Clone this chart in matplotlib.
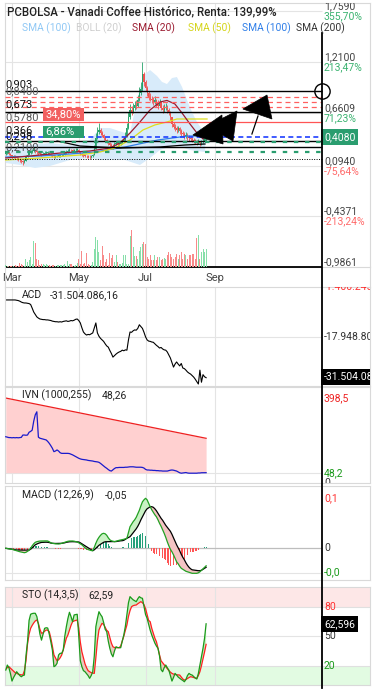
import numpy as np
import pandas as pd
import matplotlib
matplotlib.use("Agg")
import matplotlib.pyplot as plt
import matplotlib.transforms as mtransforms
from matplotlib.patches import Polygon, Rectangle
from matplotlib.lines import Line2D

plt.rcParams['font.family'] = ['Roboto', 'DejaVu Sans']

W, H = 376, 690

# ---------- data ----------
dates = pd.bdate_range('2024-02-26', '2024-10-31')
month_names = ['Mar', 'May', 'Jul', 'Sep']
month_nums = [3, 5, 7, 9]

first_open = 0.23
close = [0.24, 0.25, 0.23, 0.21, 0.19, 0.20, 0.19, 0.18, 0.17, 0.16,
         0.15, 0.14, 0.15, 0.19, 0.21, 0.24, 0.25, 0.26, 0.27, 0.26,
         0.25, 0.24, 0.23, 0.22, 0.23, 0.24, 0.24, 0.24, 0.23, 0.22,
         0.21, 0.20, 0.20, 0.205, 0.21, 0.21, 0.215, 0.22, 0.24, 0.25,
         0.26, 0.27, 0.265, 0.26, 0.265, 0.27, 0.27, 0.25, 0.23, 0.22,
         0.21, 0.205, 0.20, 0.195, 0.19, 0.20, 0.21, 0.28, 0.40, 0.46,
         0.48, 0.45, 0.43, 0.40, 0.38, 0.36, 0.34, 0.32, 0.31, 0.30,
         0.33, 0.34, 0.33, 0.33, 0.34, 0.36, 0.38, 0.42, 0.50, 0.62,
         0.70, 0.68, 0.72, 0.75, 0.74, 0.80, 0.88, 0.92, 1.08, 1.00,
         0.93, 0.88, 0.84, 0.82, 0.80, 0.78, 0.80, 0.76, 0.74, 0.78,
         0.72, 0.70, 0.72, 0.73, 0.70, 0.68, 0.62, 0.55, 0.52, 0.50,
         0.48, 0.50, 0.47, 0.45, 0.44, 0.42, 0.43, 0.41, 0.40, 0.39,
         0.38, 0.37, 0.36, 0.35, 0.36, 0.34, 0.35, 0.37, 0.39, 0.408]
high = [0.26, 0.27, 0.26, 0.24, 0.22, 0.21, 0.21, 0.20, 0.19, 0.18,
        0.17, 0.16, 0.17, 0.21, 0.23, 0.26, 0.27, 0.28, 0.30, 0.28,
        0.27, 0.26, 0.25, 0.24, 0.25, 0.26, 0.26, 0.26, 0.25, 0.24,
        0.23, 0.22, 0.22, 0.22, 0.23, 0.23, 0.23, 0.24, 0.26, 0.27,
        0.28, 0.29, 0.28, 0.28, 0.28, 0.29, 0.29, 0.28, 0.26, 0.24,
        0.23, 0.22, 0.22, 0.21, 0.21, 0.22, 0.23, 0.32, 0.45, 0.52,
        0.56, 0.50, 0.47, 0.44, 0.41, 0.39, 0.37, 0.35, 0.34, 0.33,
        0.35, 0.37, 0.36, 0.35, 0.36, 0.38, 0.41, 0.46, 0.56, 0.68,
        0.76, 0.74, 0.77, 0.79, 0.80, 0.86, 0.94, 1.00, 1.21, 1.10,
        1.02, 0.95, 0.90, 0.88, 0.85, 0.84, 0.85, 0.82, 0.80, 0.82,
        0.79, 0.75, 0.76, 0.77, 0.75, 0.72, 0.69, 0.62, 0.57, 0.55,
        0.53, 0.53, 0.52, 0.49, 0.47, 0.46, 0.46, 0.45, 0.43, 0.42,
        0.41, 0.40, 0.39, 0.38, 0.39, 0.37, 0.38, 0.40, 0.42, 0.43]
low = [0.22, 0.23, 0.21, 0.19, 0.17, 0.18, 0.17, 0.16, 0.15, 0.14,
       0.13, 0.11, 0.13, 0.15, 0.19, 0.21, 0.23, 0.24, 0.25, 0.24,
       0.23, 0.22, 0.21, 0.20, 0.21, 0.22, 0.22, 0.22, 0.21, 0.20,
       0.19, 0.18, 0.18, 0.19, 0.19, 0.19, 0.20, 0.20, 0.22, 0.23,
       0.24, 0.25, 0.25, 0.24, 0.25, 0.25, 0.25, 0.24, 0.22, 0.20,
       0.19, 0.19, 0.18, 0.18, 0.17, 0.18, 0.19, 0.21, 0.28, 0.39,
       0.44, 0.43, 0.41, 0.38, 0.36, 0.34, 0.32, 0.30, 0.29, 0.28,
       0.29, 0.32, 0.31, 0.31, 0.32, 0.33, 0.35, 0.37, 0.41, 0.49,
       0.60, 0.64, 0.66, 0.70, 0.71, 0.73, 0.79, 0.86, 0.90, 0.96,
       0.90, 0.85, 0.81, 0.79, 0.77, 0.75, 0.76, 0.73, 0.71, 0.73,
       0.70, 0.67, 0.68, 0.70, 0.67, 0.64, 0.59, 0.52, 0.49, 0.47,
       0.45, 0.46, 0.44, 0.42, 0.41, 0.39, 0.40, 0.38, 0.37, 0.36,
       0.35, 0.34, 0.33, 0.32, 0.33, 0.31, 0.32, 0.34, 0.36, 0.37]
volume_10k = [2, 1, 1, 1, 1, 1, 2, 1, 1, 4,
              3, 2, 1, 8, 5, 7, 10, 3, 26, 24,
              8, 7, 2, 3, 3, 2, 3, 2, 2, 1,
              2, 2, 1, 2, 2, 2, 2, 2, 3, 1,
              6, 3, 3, 1, 1, 2, 4, 8, 3, 16,
              3, 4, 14, 3, 2, 2, 5, 18, 30, 27,
              15, 7, 21, 12, 5, 8, 2, 14, 9, 12,
              5, 12, 5, 3, 3, 4, 12, 12, 3, 3,
              31, 37, 20, 11, 11, 8, 16, 20, 23, 25,
              23, 10, 8, 12, 7, 7, 12, 7, 10, 10,
              7, 8, 9, 8, 12, 15, 13, 10, 8, 10,
              13, 8, 12, 15, 8, 13, 12, 8, 12, 12,
              13, 13, 8, 29, 32, 8, 15, 18, 15, 18]

# moving averages / bollinger (day index, price)
sma20_i = [0, 15.6, 34.9, 54.2, 67.1, 73.5, 80, 86.4, 92.9, 99.3, 103.8, 108.9, 113.5, 118.6, 123.1, 127]
sma20_v = [0.183, 0.204, 0.236, 0.258, 0.290, 0.344, 0.451, 0.569, 0.698, 0.783, 0.800, 0.762, 0.665, 0.548, 0.451, 0.387]
sma50_i = [0, 22, 47.8, 60.7, 70.3, 80, 88.3, 96, 103.8, 110.2, 129.6]
sma50_v = [0.161, 0.183, 0.215, 0.247, 0.290, 0.376, 0.483, 0.537, 0.569, 0.601, 0.601]
sma100_i = [0, 22, 41.3, 57.4, 76.8, 98, 112.2, 117.4, 129.6]
sma100_v = [0.193, 0.204, 0.226, 0.247, 0.301, 0.376, 0.408, 0.419, 0.419]
sma200_i = [33, 47.8, 73.5, 99.3, 115.4, 128.3]
sma200_v = [0.365, 0.311, 0.290, 0.301, 0.322, 0.333]
boll_up_i = [0, 15.6, 28.5, 41.3, 54.2, 60.7, 67.1, 76.8, 80, 83.2, 86.4, 89.6, 92.9, 97.4,
             100.6, 103.8, 107, 110.2, 113.5, 116.7, 119.9, 123.1, 128.3]
boll_up_v = [0.301, 0.322, 0.344, 0.322, 0.376, 0.504, 0.504, 0.451, 0.451, 0.698, 0.933, 1.083, 1.126, 1.062,
             0.998, 0.976, 1.040, 1.051, 0.944, 0.805, 0.676, 0.569, 0.440]
boll_lo_i = [0, 9.1, 18.8, 28.5, 41.3, 54.2, 60.7, 76.8, 86.4, 92.9, 99.3, 108.9, 118.6, 128.3]
boll_lo_v = [0.129, 0.108, 0.076, 0.097, 0.161, 0.183, 0.161, 0.161, 0.108, 0.183, 0.268, 0.322, 0.268, 0.247]

# drawn horizontal levels
levels = [0.903, 0.840, 0.786, 0.726, 0.673, 0.565, 0.408, 0.366, 0.351, 0.298, 0.247, 0.169]

# drawn arrow heads (day index, price)
tri_a = [(120.5, 0.429), (139.2, 0.644), (139.9, 0.333)]
tri_b = [(129.6, 0.526), (148.9, 0.687), (146.3, 0.365)]
tri_c = [(152.7, 0.708), (168.2, 0.858), (171.4, 0.601)]
arrow_shaft = [(158.5, 0.440), (162.4, 0.633)]

price_ticks = [1.759, 1.21, 0.6609, 0.094, -0.4371, -0.9861]
price_tick_txt = ['1,7590', '1,2100', '0,6609', '0,0940', '-0,4371', '-0,9861']
pct_txt = ['355,70%', '213,47%', '71,23%', '-75,64%', '-213,24%', '-355,47%']

acd_m = [-5.8, -5.8, -5.8, -5.8, -5.8, -5.8, -5.8, -5.9, -6.0, -6.2,
         -6.5, -6.7, -6.8, -6.8, -6.9, -7.0, -7.3, -8.5, -9.8, -10.6,
         -11.4, -11.8, -12.1, -12.2, -12.3, -12.3, -12.4, -12.4, -12.5, -12.6,
         -12.8, -12.9, -13.0, -13.0, -13.1, -13.0, -13.1, -12.9, -12.8, -12.7,
         -12.9, -12.8, -12.6, -12.7, -12.5, -12.2, -12.1, -12.6, -13.4, -15.0,
         -16.4, -17.0, -17.4, -17.2, -17.3, -17.0, -16.7, -15.0, -13.4, -16.7,
         -17.8, -18.5, -19.0, -19.5, -20.3, -21.0, -21.4, -22.5, -23.5, -24.7,
         -24.2, -23.7, -23.3, -23.0, -22.8, -22.4, -22.6, -22.3, -22.4, -19.0,
         -16.4, -16.5, -16.0, -15.7, -15.8, -15.2, -14.0, -14.6, -15.2, -16.5,
         -18.0, -19.0, -19.4, -19.5, -19.7, -19.8, -20.3, -20.8, -21.2, -21.7,
         -21.5, -22.0, -22.3, -22.4, -23.0, -24.0, -25.0, -26.5, -28.0, -27.0,
         -26.3, -27.0, -27.6, -26.8, -28.3, -28.5, -29.0, -29.6, -30.0, -30.3,
         -30.8, -31.3, -32.0, -32.8, -33.6, -29.0, -33.0, -30.5, -31.2, -31.504]

ivn = [217, 215, 213, 213, 212, 213, 212, 213, 212, 213,
       214, 225, 225, 224, 225, 238, 242, 248, 290, 320,
       334, 215, 210, 208, 206, 204, 202, 195, 186, 175,
       163, 147, 150, 155, 150, 142, 139, 139, 139, 139,
       139, 138, 135, 132, 128, 124, 120, 116, 113, 111,
       110, 109, 108, 106, 105, 104, 103, 101, 100, 99,
       97, 92, 86, 80, 74, 69, 63, 58, 56, 62,
       68, 72, 72, 73, 73, 73, 73, 74, 74, 75,
       76, 76, 76, 75, 74, 74, 74, 74, 73, 70,
       64, 61, 61, 60, 60, 59, 59, 58, 58, 57,
       57, 56, 56, 56, 56, 58, 60, 61, 60, 58,
       56, 52, 48, 46, 47, 48, 49, 47, 46, 46,
       46, 46, 46, 46, 47, 47, 48, 48, 48, 48.26]
ivn_upper = [398.5, 209.7]

macd = [0, -0.0005, -0.001, -0.0015, -0.002, -0.003, -0.004, -0.005, -0.006, -0.0068,
        -0.0075, -0.0082, -0.0088, -0.008, -0.006, -0.004, 0.0, 0.005, 0.009, 0.012,
        0.0132, 0.014, 0.0145, 0.0146, 0.0148, 0.015, 0.0148, 0.0146, 0.013, 0.011,
        0.010, 0.0095, 0.009, 0.0088, 0.0086, 0.009, 0.010, 0.011, 0.012, 0.0132,
        0.014, 0.0145, 0.0146, 0.0146, 0.0142, 0.0135, 0.0126, 0.011, 0.009, 0.007,
        0.004, 0.001, -0.001, -0.0025, -0.0035, -0.0045, -0.0048, 0.002, 0.010, 0.017,
        0.022, 0.026, 0.029, 0.030, 0.029, 0.026, 0.021, 0.017, 0.015, 0.014,
        0.0132, 0.014, 0.015, 0.016, 0.0166, 0.017, 0.018, 0.019, 0.020, 0.032,
        0.0432, 0.048, 0.0532, 0.057, 0.062, 0.069, 0.076, 0.085, 0.093, 0.097,
        0.100, 0.097, 0.090, 0.083, 0.077, 0.072, 0.067, 0.063, 0.057, 0.050,
        0.044, 0.037, 0.030, 0.022, 0.013, 0.005, -0.002, -0.007, -0.013, -0.020,
        -0.027, -0.031, -0.036, -0.040, -0.042, -0.044, -0.046, -0.047, -0.048, -0.049,
        -0.050, -0.050, -0.050, -0.050, -0.049, -0.047, -0.044, -0.041, -0.038, -0.035]
signal = [0, -0.0005, -0.001, -0.0015, -0.002, -0.0025, -0.003, -0.0033, -0.0034, -0.0034,
          -0.0035, -0.0036, -0.0036, -0.0036, -0.0035, -0.0034, -0.002, 0.001, 0.004, 0.007,
          0.0086, 0.010, 0.011, 0.0118, 0.012, 0.0122, 0.0122, 0.012, 0.0115, 0.0105,
          0.010, 0.0098, 0.0097, 0.0097, 0.0098, 0.0099, 0.010, 0.0105, 0.011, 0.012,
          0.0125, 0.013, 0.0132, 0.0132, 0.0132, 0.013, 0.0128, 0.0126, 0.011, 0.009,
          0.007, 0.005, 0.003, 0.001, -0.001, -0.003, -0.0048, -0.003, 0.000, 0.003,
          0.006, 0.008, 0.010, 0.012, 0.013, 0.0132, 0.0133, 0.0133, 0.0133, 0.0133,
          0.0132, 0.0135, 0.014, 0.0145, 0.015, 0.0152, 0.016, 0.018, 0.020, 0.0215,
          0.0232, 0.027, 0.031, 0.035, 0.039, 0.044, 0.050, 0.057, 0.063, 0.069,
          0.075, 0.079, 0.081, 0.083, 0.0832, 0.082, 0.079, 0.075, 0.070, 0.065,
          0.060, 0.056, 0.051, 0.046, 0.042, 0.038, 0.034, 0.028, 0.021, 0.014,
          0.007, 0.001, -0.005, -0.012, -0.018, -0.023, -0.029, -0.034, -0.038, -0.041,
          -0.043, -0.0435, -0.044, -0.0445, -0.0448, -0.0448, -0.044, -0.042, -0.040, -0.038]

sto_k = [15.6, 20.7, 18, 12, 4.4, 8, 10.8, 13.9, 12, 10,
         8.8, 10, 10.5, 30, 44.4, 66, 72.3, 73, 73.3, 73.3,
         70, 62, 52, 46, 52, 58, 58.6, 58.3, 52, 44.4,
         36, 19, 20, 22.4, 30.9, 32.6, 32.6, 36, 50, 59.7,
         68, 74.3, 70, 64.7, 71.6, 72, 72.3, 50, 25, 19,
         15, 13.9, 12, 10, 7.2, 10, 13.9, 30, 59.7, 68,
         74.9, 72, 69.8, 64, 57, 54.6, 45, 37.7, 32, 29.1,
         35, 39.3, 38.5, 38.3, 38.3, 45, 51.2, 60, 72, 84,
         90.2, 88.5, 87, 86, 85.1, 88, 90.2, 89, 88.5, 80,
         72, 68.2, 62, 56, 51.2, 47, 43, 40, 37.7, 30,
         16, 13.9, 18, 20.7, 18, 15.6, 10, 4.4, 8, 12.2,
         10.5, 8.5, 7.2, 6, 5, 3.7, 6, 10, 12.2, 11,
         10.5, 9, 7.5, 6.5, 12, 20.7, 30, 37.7, 48, 62.6]
sto_d = [16.6, 18, 19, 17.5, 16, 14.5, 13, 12.2, 11.5, 11,
         10.7, 10.5, 15, 25, 42, 52, 58, 61, 63.5, 65.5,
         66.5, 63, 57, 53, 53.5, 55, 56.3, 56, 54.6, 48,
         40, 31, 28, 25, 26, 28, 30.9, 36, 42, 48,
         51.2, 56, 61, 64.7, 65.5, 66, 66.5, 58, 44, 34.2,
         28, 22, 18, 15, 13.9, 13, 12.5, 12.2, 28, 45,
         56.3, 60, 63.1, 62, 59, 56, 54.6, 49, 43, 39.3,
         38.5, 38.3, 38.3, 38.3, 40, 45, 50, 56, 61.4, 70,
         76, 80, 81, 81.5, 81.7, 83, 84, 85.1, 84, 82,
         78, 72, 66, 64.7, 58, 53, 48, 44.4, 38, 31,
         25, 23, 21, 19, 17, 15, 13.5, 12.2, 11.5, 11,
         10.8, 10.6, 10.5, 8.5, 6.5, 5.4, 6, 7, 8, 8.8,
         8.5, 8, 7.5, 7.2, 10, 13.9, 20, 27, 34, 41.7]

N = len(close)
x = np.arange(N)

# ---------- layout helpers ----------
fig = plt.figure(figsize=(W / 100, H / 100), dpi=100)
fig.patch.set_facecolor('white')

X0 = -0.5
PXD = 1.553                  # pixels per trading day
X1 = X0 + 365 / PXD          # axes span 5..370 px
XS = X0 + 317 / PXD          # price scale line at 322 px
LAB = 319 / 365              # right labels start at 324 px

month_idx = [int(np.argmax(dates.month == m)) for m in month_nums]


def box(top, bottom):
    return [5 / W, 1 - bottom / H, 365 / W, (bottom - top) / H]


def ptext(px, py, s, **kw):
    kw.setdefault('va', 'center')
    kw.setdefault('ha', 'left')
    return fig.text(px / W, 1 - py / H, s, **kw)


def setup(ax, ylim, hgrid):
    ax.set_xlim(X0, X1)
    ax.set_ylim(*ylim)
    for s in ax.spines.values():
        s.set_color('#d9d9d9')
    ax.set_xticks([])
    ax.set_yticks([])
    for m in month_idx:
        ax.axvline(m, color='#e4e4e4', lw=0.8, zorder=0)
    if hgrid:
        ax.hlines(hgrid, X0, XS, color='#e4e4e4', lw=0.8, zorder=0)


def rlabel(ax, y, s, color, va='center', size=7.5, **kw):
    tr = mtransforms.blended_transform_factory(ax.transAxes, ax.transData)
    return ax.text(LAB, y, s, transform=tr, color=color, fontsize=size, va=va,
                   ha='left', clip_on=True, **kw)


GREEN = '#26a269'
RED = '#ef5350'

# ---------- main price panel ----------
ax = fig.add_axes(box(3, 267))
setup(ax, (-0.9861, 1.8448), price_ticks[:-1])
ax.set_xticks(month_idx)
ax.set_xticklabels(month_names)
ax.tick_params(axis='x', length=0, labelsize=8, labelcolor='#444444', pad=4)

ax.fill(np.concatenate([boll_up_i, boll_lo_i[::-1]]),
        np.concatenate([boll_up_v, boll_lo_v[::-1]]),
        color='#d8ebfa', lw=0, zorder=1)

opens = [first_open] + close[:-1]
up = [c >= o for o, c in zip(opens, close)]
cols = [GREEN if u else RED for u in up]
ax.vlines(x, low, high, colors=cols, lw=0.6, zorder=3)
ax.bar(x, [max(abs(c - o), 0.006) for o, c in zip(opens, close)],
       bottom=[min(o, c) for o, c in zip(opens, close)], width=0.75,
       color=cols, lw=0, zorder=3)

ax.plot(sma100_i, sma100_v, color='#2f7ee8', lw=0.9, zorder=4)
ax.plot(sma200_i, sma200_v, color='black', lw=0.9, zorder=4)
ax.plot(sma50_i, sma50_v, color='#dede1c', lw=0.9, zorder=4)
ax.plot(sma20_i, sma20_v, color='#9b1b30', lw=0.9, zorder=4)

lvl_styles = [('black', '-', 1.0), ('#ff6060', (0, (4, 3)), 0.9),
              ('#ff6060', (0, (4, 3)), 0.9), ('#ff6060', (0, (4, 3)), 0.9),
              ('black', '-', 1.0), ('#ff5555', '-', 0.9),
              ('#1f3fff', (0, (3, 2)), 1.2), ('black', '-', 1.0),
              ('#2a9d6f', (0, (2, 3)), 1.6), ('black', '-', 1.0),
              ('#2a9d6f', (0, (2, 3)), 1.6), ('black', (0, (1, 1.5)), 0.7)]
for lv, (c, ls, lw) in zip(levels, lvl_styles):
    ax.hlines(lv, X0, XS, colors=c, linestyles=ls, lw=lw, zorder=5)
ax.plot([XS], [levels[0]], 'o', ms=11, mfc='none', mec='black', mew=1.0,
        clip_on=False, zorder=7)

for tri in (tri_a, tri_b, tri_c):
    ax.add_patch(Polygon(tri, closed=True, fc='black', ec='black', lw=0.5, zorder=6))
ax.plot(*zip(*arrow_shaft), color='black', lw=0.9, zorder=6)

ax.hlines(-0.9861, X0, XS, color='black', lw=1.3, clip_on=False, zorder=6)

for v, t, p in zip(price_ticks, price_tick_txt, pct_txt):
    rlabel(ax, v, t, '#444444', va='bottom')
    rlabel(ax, v, p, '#3cb371' if v > 0.386 else '#ff6b6b', va='top')
rlabel(ax, close[-1], '0,4080', 'white', va='center',
       bbox=dict(fc='#2a9d6f', ec='none', pad=2.2), zorder=8)

# volume on its own scale
axv = ax.twinx()
axv.set_ylim(0, 264)
axv.set_axis_off()
vcols = ['#86dfa9' if u else '#f88a8a' for u in up]
axv.bar(x, volume_10k, width=0.65, color=vcols, lw=0)

# left price labels and boxes
ptext(5, 84, '0,903', fontsize=8, color='#111111')
ptext(5, 91, '0,8400', fontsize=8, color='#666666')
ptext(5, 104, '0,673', fontsize=8, color='#111111')
ptext(5, 117, '0,5780', fontsize=8, color='#555555')
ptext(5, 130, '0,366', fontsize=8, color='#111111')
ptext(5, 136, '0,298', fontsize=8, color='#111111')
ptext(5, 147, '0,2100', fontsize=8, color='#555555')
fig.add_artist(Rectangle((43 / W, 1 - 120.5 / H), 41 / W, 12.5 / H,
                         transform=fig.transFigure, fc='#f26060', ec='none'))
ptext(45, 114.5, '34,80%', fontsize=8, color='white')
fig.add_artist(Rectangle((43 / W, 1 - 137.5 / H), 41 / W, 12 / H,
                         transform=fig.transFigure, fc='#2a9d6f', ec='none'))
ptext(45, 131.5, '6,86%', fontsize=8, color='white')

# title and legend
ptext(7, 12, 'PCBOLSA - Vanadi Coffee Histórico, Renta: 139,99%',
      fontsize=8.3, color='#222222', fontweight='medium')
legend_items = [('SMA (100)', '#90c8f5'), ('BOLL (20)', '#cfcfcf'),
                ('SMA (20)', '#9b1b30'), ('SMA (50)', '#d4d41a'),
                ('SMA (100)', '#2f7ee8'), ('SMA (200)', '#333333')]
for (txt, c), px in zip(legend_items, [21.5, 76.5, 131.5, 188, 241.5, 296.5]):
    ptext(px, 28, txt, fontsize=7.4, color=c)

# ---------- ACD ----------
ax2 = fig.add_axes(box(287, 386))
setup(ax2, (-34.248, -1.517), [-17.9488])
ax2.plot(x, acd_m, color='black', lw=0.8)
rlabel(ax2, -1.517, '-1.400.245', '#ff3030')
rlabel(ax2, -17.9488, '-17.948.800', '#333333')
rlabel(ax2, -31.27, '-31.504.086', 'white', bbox=dict(fc='black', ec='none', pad=2.0))
ptext(22, 295, 'ACD', fontsize=7.5, color='#222222')
ptext(50, 295, '-31.504.086,16', fontsize=7.5, color='#222222')

# ---------- IVN ----------
ax3 = fig.add_axes(box(387, 483))
setup(ax3, (0, 450.3), [48.2])
ax3.fill_between([0, N - 1], ivn_upper, 48.2, color='#ffd0d0', lw=0, zorder=1)
ax3.plot([0, N - 1], ivn_upper, color='#ee2020', lw=0.9, zorder=2)
ax3.plot(x, ivn, color='#1a1acc', lw=0.9, zorder=3)
rlabel(ax3, 398.5, '398,5', '#ee2020')
rlabel(ax3, 48.2, '48,2', '#1a9a1a')
rlabel(ax3, 0, '0', '#333333')
ptext(22, 395, 'IVN (1000,255)', fontsize=7.5, color='#222222')
ptext(102, 395, '48,26', fontsize=7.5, color='#222222')

# ---------- MACD ----------
ax4 = fig.add_axes(box(486, 580))
setup(ax4, (-0.0634, 0.1246), [-0.0488])
ax4.hlines(0, X0, XS, color='#bdbdbd', lw=0.9, zorder=0)
macd_a = np.array(macd)
sig_a = np.array(signal)
hist = macd_a - sig_a
ax4.bar(x, hist, width=0.5, color=['#26a07a' if h >= 0 else '#ff5555' for h in hist],
        lw=0, zorder=1)
ax4.fill_between(x, macd_a, sig_a, where=macd_a >= sig_a, interpolate=True,
                 color='#c9f2c4', lw=0, zorder=2)
ax4.fill_between(x, macd_a, sig_a, where=macd_a < sig_a, interpolate=True,
                 color='#f5c4c4', lw=0, zorder=2)
ax4.plot(x, sig_a, color='black', lw=0.9, zorder=3)
ax4.plot(x, macd_a, color='#22a022', lw=0.9, zorder=3)
rlabel(ax4, 0.1, '0,1', '#ff3030')
rlabel(ax4, 0, '0', '#333333')
rlabel(ax4, -0.0488, '-0,0', '#1a9a1a')
ptext(22, 495, 'MACD (12,26,9)', fontsize=7.5, color='#222222')
ptext(105, 495, '-0,05', fontsize=7.5, color='#222222')

# ---------- STO ----------
ax5 = fig.add_axes(box(587, 685))
setup(ax5, (0.4, 100), [50])
ax5.axhspan(80, 100, color='#fde7e7', lw=0, zorder=0)
ax5.axhspan(0, 20, color='#e2fbe2', lw=0, zorder=0)
for m in month_idx:
    ax5.axvline(m, color='#e4e4e4', lw=0.8, zorder=0.5)
ax5.hlines([80, 20], X0, X1, color='#e0e0e0', lw=0.8, zorder=0.5)
k_a = np.array(sto_k)
d_a = np.array(sto_d)
ax5.fill_between(x, k_a, d_a, where=k_a >= d_a, interpolate=True,
                 color='#c6efc0', lw=0, zorder=1)
ax5.fill_between(x, k_a, d_a, where=k_a < d_a, interpolate=True,
                 color='#e8c9bd', lw=0, zorder=1)
ax5.plot(x, d_a, color='#ff2020', lw=0.9, zorder=2)
ax5.plot(x, k_a, color='#1a9a1a', lw=0.9, zorder=3)
rlabel(ax5, 80, '80', '#ff3030')
rlabel(ax5, 50, '50', '#333333')
rlabel(ax5, 20, '20', '#1a9a1a')
rlabel(ax5, 62.6, '62,596', 'white', bbox=dict(fc='black', ec='none', pad=2.0))
ptext(22, 595, 'STO (14,3,5)', fontsize=7.5, color='#222222')
ptext(88, 595, '62,59', fontsize=7.5, color='#222222')

# price scale line and month strip border
fig.add_artist(Line2D([322 / W, 322 / W], [1 - 33 / H, 1 - 688 / H],
                      transform=fig.transFigure, color='black', lw=1.3))
for px in (5, 370):
    fig.add_artist(Line2D([px / W, px / W], [1 - 267 / H, 1 - 287 / H],
                          transform=fig.transFigure, color='#d9d9d9', lw=0.8))

fig.savefig('out.png', dpi=100)
